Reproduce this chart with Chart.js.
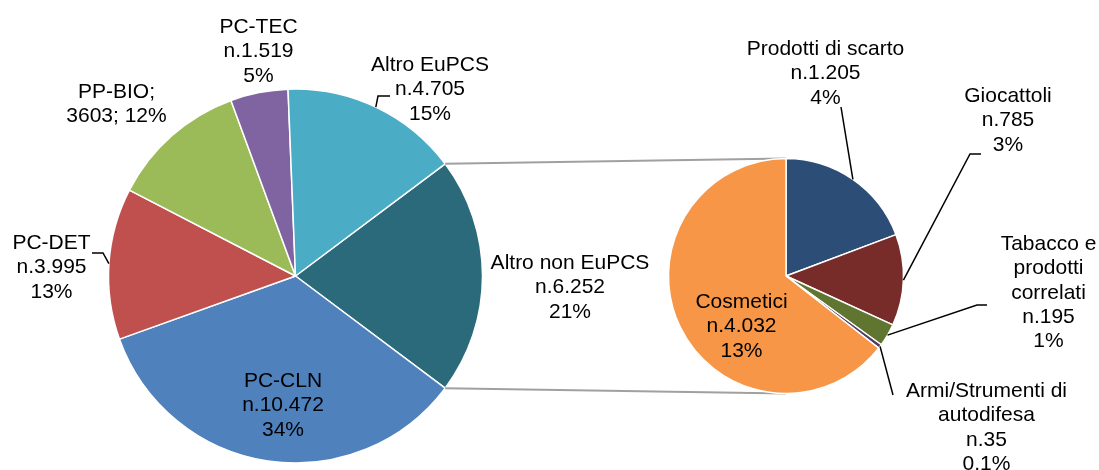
<!DOCTYPE html>
<html><head><meta charset="utf-8">
<script src="https://cdn.jsdelivr.net/npm/chart.js@4"></script>
<style>
html,body{margin:0;padding:0;background:#fff;}
#wrap{position:relative;width:1099px;height:470px;}
canvas{position:absolute;left:0;top:0;}
</style>
</head><body>
<div id="wrap"><canvas id="c1" width="1099" height="470"></canvas><canvas id="c2" width="1099" height="470"></canvas></div>
<script>
// ---- data ----
const mainCategories = ['Altro non EuPCS','PC-CLN','PC-DET','PP-BIO','PC-TEC','Altro EuPCS'];
const mainValues = [6252, 10472, 3995, 3603, 1519, 4705];
const mainLabels = [
  ['Altro non EuPCS','n.6.252','21%'],
  ['PC-CLN','n.10.472','34%'],
  ['PC-DET','n.3.995','13%'],
  ['PP-BIO;','3603; 12%'],
  ['PC-TEC','n.1.519','5%'],
  ['Altro EuPCS','n.4.705','15%']
];
const subCategories = ['Prodotti di scarto','Giocattoli','Tabacco e prodotti correlati','Armi/Strumenti di autodifesa','Cosmetici'];
const subValues = [1205, 785, 195, 35, 4032];
const subLabels = [
  ['Prodotti di scarto','n.1.205','4%'],
  ['Giocattoli','n.785','3%'],
  ['Tabacco e','prodotti','correlati','n.195','1%'],
  ['Armi/Strumenti di','autodifesa','n.35','0.1%'],
  ['Cosmetici','n.4.032','13%']
];

// ---- styles / layout ----
const mainColors = ['#2A6A7A','#4F81BD','#C0504D','#9BBB59','#8064A2','#4BACC6'];
const subColors = ['#2C4D75','#772C2A','#5F7530','#4D3B62','#F79646'];
const FONT = '21px "Liberation Sans", Arial, sans-serif';
const LINE_H = 24.3;
const mainLabelPos = [
  {x:570, y:269},
  {x:283, y:387},
  {x:51.5, y:249, leader:[[103,253],[92,253]]},
  {x:116.5, y:98},
  {x:258.5, y:33},
  {x:430, y:71, leader:[[378,96],[390,96]]}
];
const subLabelPos = [
  {x:825.5, y:55, leader:[[841,107]]},
  {x:1008, y:102, leader:[[970,154],[981,154]]},
  {x:1048.5, y:250, leader:[[977,305],[987,305]]},
  {x:986.5, y:397, leader:[[893,395]]},
  {x:741.5, y:308}
];

function opts(pad, rotation){
  return {
    responsive:false, animation:false, events:[], rotation:rotation,
    layout:{padding:pad},
    plugins:{legend:{display:false}, tooltip:{enabled:false}}
  };
}
function ds(values, colors){
  return {data:values, backgroundColor:colors, borderColor:'#ffffff', borderWidth:1.5,
          hoverBorderWidth:1.5, hoverOffset:0, offset:0};
}
const mainTotal = mainValues.reduce((a,b)=>a+b,0);
const mainRotation = 90 - (mainValues[0]/mainTotal*360)/2;

const chart1 = new Chart(document.getElementById('c1'), {
  type:'pie',
  data:{labels:mainCategories, datasets:[ds(mainValues, mainColors)]},
  options:opts({left:107.75, top:88.25, right:615.75, bottom:6.25}, mainRotation)
});

function edgePoint(el, ang){
  return [el.x + Math.cos(ang)*el.outerRadius, el.y + Math.sin(ang)*el.outerRadius];
}
function drawLabels(ctx, metaData, lines, pos){
  ctx.save();
  ctx.font = FONT; ctx.fillStyle = '#000'; ctx.textAlign = 'center'; ctx.textBaseline = 'alphabetic';
  ctx.strokeStyle = '#000'; ctx.lineWidth = 1.5;
  lines.forEach((ls, i) => {
    const p = pos[i];
    if (p.leader){
      const el = metaData[i];
      const a = (el.startAngle + el.endAngle)/2;
      const st = edgePoint(el, a);
      ctx.beginPath(); ctx.moveTo(st[0], st[1]);
      p.leader.forEach(q => ctx.lineTo(q[0], q[1]));
      ctx.stroke();
    }
    ls.forEach((t, k) => ctx.fillText(t, p.x, p.y + k*LINE_H));
  });
  ctx.restore();
}

const overlay = {
  id:'overlay',
  beforeDatasetsDraw(chart){
    const ctx = chart.ctx;
    const m = chart1.getDatasetMeta(0).data[0];
    const s = chart.getDatasetMeta(0).data[0];
    const p1 = edgePoint(m, m.startAngle), p2 = edgePoint(m, m.endAngle);
    ctx.save();
    ctx.strokeStyle = '#a0a0a0'; ctx.lineWidth = 2;
    ctx.beginPath();
    ctx.moveTo(p1[0], p1[1]); ctx.lineTo(s.x, s.y - s.outerRadius);
    ctx.moveTo(p2[0], p2[1]); ctx.lineTo(s.x, s.y + s.outerRadius);
    ctx.stroke();
    ctx.restore();
  },
  afterDraw(chart){
    const ctx = chart.ctx;
    drawLabels(ctx, chart1.getDatasetMeta(0).data, mainLabels, mainLabelPos);
    drawLabels(ctx, chart.getDatasetMeta(0).data, subLabels, subLabelPos);
  }
};

const chart2 = new Chart(document.getElementById('c2'), {
  type:'pie',
  data:{labels:subCategories, datasets:[ds(subValues, subColors)]},
  options:opts({left:667.75, top:157.75, right:194.75, bottom:75.75}, 0),
  plugins:[overlay]
});
</script>
</body></html>
